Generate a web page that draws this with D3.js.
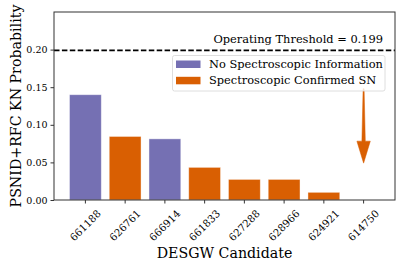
<!DOCTYPE html>
<html><head><meta charset="utf-8">
<script src="https://cdn.jsdelivr.net/npm/d3@7"></script>
<style>body{margin:0;background:#fff}svg{display:block}text{font-family:"DejaVu Serif",serif;fill:#000}</style>
</head><body><svg id="c" width="407" height="271"></svg>
<script>
const candidates = ["661188","626761","666914","661833","627288","628966","624921","614750"];
const probabilities = [0.140, 0.0845, 0.0813, 0.0434, 0.0274, 0.0274, 0.0102, 0.0];
const spectroscopic = [0, 1, 0, 1, 1, 1, 1, 1];
const seriesNames = ["No Spectroscopic Information", "Spectroscopic Confirmed SN"];
const yTicks = [0, 0.05, 0.10, 0.15, 0.20];
const threshold = 0.199;
const thresholdLabel = "Operating Threshold = 0.199";
const arrowFrom = 0.148, arrowTo = 0.049;

const colors = ["#7570b3", "#d95f02"];
const svg = d3.select("#c");
const L = 54, R = 395, T = 12, B = 200;
const x = d3.scaleBand().domain(candidates).range([L, R]).paddingInner(0.2).paddingOuter(0.39);
const y = d3.scaleLinear().domain([0, 0.25]).range([B, T]);

// bars
svg.append("g").selectAll("rect").data(candidates).join("rect")
  .attr("x", d => x(d)).attr("width", x.bandwidth())
  .attr("y", (d, i) => y(probabilities[i]))
  .attr("height", (d, i) => y(0) - y(probabilities[i]))
  .attr("fill", (d, i) => colors[spectroscopic[i]])
  .attr("stroke", "#fff").attr("stroke-opacity", 0.5).attr("stroke-width", 0.8);

// threshold line
svg.append("line").attr("x1", L).attr("x2", R).attr("y1", y(threshold)).attr("y2", y(threshold))
  .attr("stroke", "#000").attr("stroke-width", 1.8).attr("stroke-dasharray", "5.5,2.4");
svg.append("text").attr("x", 383).attr("y", y(threshold) - 7.5).attr("text-anchor", "end")
  .attr("font-size", 11.4).text(thresholdLabel);

// arrow
const last = candidates[candidates.length - 1];
const ax = x(last) + x.bandwidth() / 2;
const y0 = y(arrowFrom), y1 = y(arrowTo), hl = 22, hw = 6.7;
const pts = [[ax - 0.5, y0], [ax + 0.5, y0], [ax + 1.7, y1 - hl], [ax + hw, y1 - hl], [ax, y1],
  [ax - hw, y1 - hl], [ax - 1.7, y1 - hl]];
svg.append("path").attr("d", d3.line()(pts) + "Z").attr("fill", colors[1]).attr("stroke", colors[1]).attr("stroke-width", 0.5);

// legend
const lg = svg.append("g");
lg.append("rect").attr("x", 172.5).attr("y", 55.5).attr("width", 212.5).attr("height", 35.5).attr("rx", 2)
  .attr("fill", "#fff").attr("fill-opacity", 0.8).attr("stroke", "#d5d5d5").attr("stroke-width", 0.8);
seriesNames.forEach((s, i) => {
  const yy = 60.5 + i * 16.3;
  lg.append("rect").attr("x", 176).attr("y", yy).attr("width", 24.5).attr("height", 7.5).attr("fill", colors[i]);
  lg.append("text").attr("x", 209).attr("y", yy + 7.4).attr("font-size", 11.4).text(s);
});

// frame
svg.append("rect").attr("x", L).attr("y", T).attr("width", R - L).attr("height", B - T)
  .attr("fill", "none").attr("stroke", "#333").attr("stroke-width", 1);

// y axis
const ya = svg.append("g").attr("transform", `translate(${L},0)`)
  .call(d3.axisLeft(y).tickValues(yTicks).tickFormat(d3.format(".2f")).tickSize(3.5).tickPadding(3));
ya.select(".domain").remove();
ya.selectAll(".tick line").attr("stroke", "#333");
ya.selectAll(".tick text").attr("font-size", 9.5).attr("font-family", "DejaVu Serif").attr("fill", "#000");

// x axis
const xa = svg.append("g").attr("transform", `translate(0,${B})`)
  .call(d3.axisBottom(x).tickSize(3.5));
xa.select(".domain").remove();
xa.selectAll(".tick line").attr("stroke", "#333");
xa.selectAll(".tick text").attr("font-size", 10.2).attr("font-family", "DejaVu Serif").attr("fill", "#000")
  .attr("text-anchor", "middle").attr("dy", null).attr("y", null)
  .attr("dominant-baseline", "central")
  .attr("transform", "translate(0,25.5) rotate(-45)");

// axis labels
svg.append("text").attr("x", (L + R) / 2).attr("y", 258.3).attr("text-anchor", "middle").attr("font-size", 14.2).text("DESGW Candidate");
svg.append("text").attr("transform", `translate(20.5,${(T + B) / 2}) rotate(-90)`).attr("text-anchor", "middle")
  .attr("font-size", 14.2).text("PSNID+RFC KN Probability");
</script></body></html>
